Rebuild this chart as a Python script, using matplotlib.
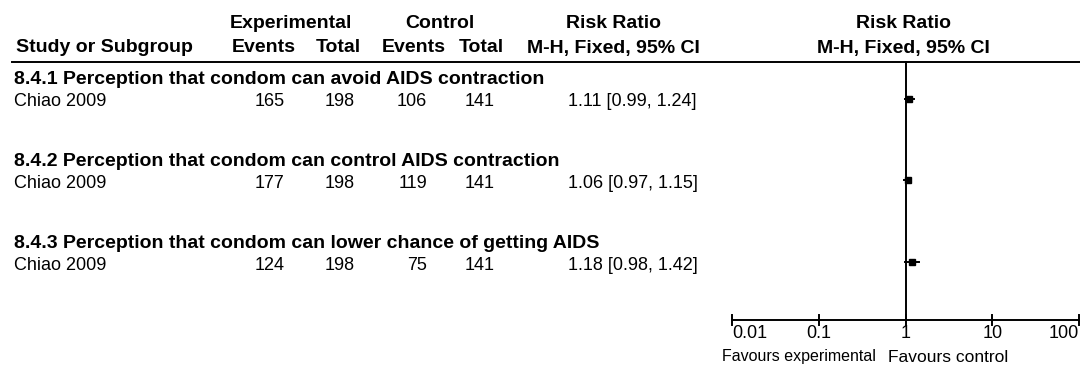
import matplotlib.pyplot as plt

plt.rcParams['font.family'] = ['Liberation Sans', 'DejaVu Sans']

# subgroup 8.4.x, one study each
subgroups = [
    '8.4.1 Perception that condom can avoid AIDS contraction',
    '8.4.2 Perception that condom can control AIDS contraction',
    '8.4.3 Perception that condom can lower chance of getting AIDS',
]
studies = ['Chiao 2009', 'Chiao 2009', 'Chiao 2009']
exp_events = [165, 177, 124]
exp_total = [198, 198, 198]
ctl_events = [106, 119, 75]
ctl_total = [141, 141, 141]
rr = [1.11, 1.06, 1.18]
ci_low = [0.99, 0.97, 0.98]
ci_high = [1.24, 1.15, 1.42]

ticks = [0.01, 0.1, 1, 10, 100]
tick_labels = ['0.01', '0.1', '1', '10', '100']

W, H = 1080, 369
fig = plt.figure(figsize=(W / 100, H / 100), dpi=100)
fig.patch.set_facecolor('white')

# table drawn in pixel units
ax = fig.add_axes([0, 0, 1, 1])
ax.set_xlim(0, W)
ax.set_ylim(H, 0)
ax.axis('off')

bold = dict(fontsize=14, fontweight='bold', va='center')
norm = dict(fontsize=13, va='center')

# header
ax.text(291, 24, 'Experimental', ha='center', **bold)
ax.text(440, 24, 'Control', ha='center', **bold)
ax.text(613, 24, 'Risk Ratio', ha='center', **bold)
ax.text(903, 24, 'Risk Ratio', ha='center', **bold)
ax.text(16, 48, 'Study or Subgroup', ha='left', **bold)
ax.text(264, 48, 'Events', ha='center', **bold)
ax.text(338, 48, 'Total', ha='center', **bold)
ax.text(414, 48, 'Events', ha='center', **bold)
ax.text(481, 48, 'Total', ha='center', **bold)
ax.text(613, 48, 'M-H, Fixed, 95% CI', ha='center', **bold)
ax.text(903, 48, 'M-H, Fixed, 95% CI', ha='center', **bold)
ax.plot([12, W], [62, 62], color='black', lw=1.4)

sub_y = [80, 162, 244]
row_y = [102, 184, 266]
for i in range(3):
    ax.text(14, sub_y[i], subgroups[i], ha='left', **bold)
    ax.text(14, row_y[i], studies[i], ha='left', **norm)
    ax.text(270, row_y[i], str(exp_events[i]), ha='center', **norm)
    ax.text(340, row_y[i], str(exp_total[i]), ha='center', **norm)
    ax.text(427, row_y[i], str(ctl_events[i]), ha='right', **norm)
    ax.text(480, row_y[i], str(ctl_total[i]), ha='center', **norm)
    ax.text(568, row_y[i], f'{rr[i]:.2f} [{ci_low[i]:.2f}, {ci_high[i]:.2f}]', ha='left', **norm)

ax.text(722, 357, 'Favours experimental', ha='left', fontsize=11.5, va='center')
ax.text(888, 357, 'Favours control', ha='left', fontsize=12.5, va='center')

# forest panel on a log scale
fx = fig.add_axes([732 / W, 0, (1079 - 732) / W, 1])
fx.set_xscale('log')
fx.set_xlim(0.01, 100)
fx.set_ylim(H, 0)
fx.axis('off')

axis_y = 320
fx.plot([1, 1], [62, axis_y], color='black', lw=1.4)
fx.plot([0.01, 100], [axis_y, axis_y], color='black', lw=1.4, clip_on=False)
for t, lab in zip(ticks, tick_labels):
    fx.plot([t, t], [axis_y - 5, axis_y + 5], color='black', lw=1.4, clip_on=False)
    ha = 'left' if t == ticks[0] else ('right' if t == ticks[-1] else 'center')
    fx.text(t, 333, lab, ha=ha, **norm)

mark_y = [99, 180, 262]
for i in range(3):
    fx.plot([ci_low[i], ci_high[i]], [mark_y[i], mark_y[i]], color='black', lw=1.4)
    fx.plot(rr[i], mark_y[i], marker='s', color='black', ms=4)

fig.savefig('out.png', dpi=100, facecolor='white')
